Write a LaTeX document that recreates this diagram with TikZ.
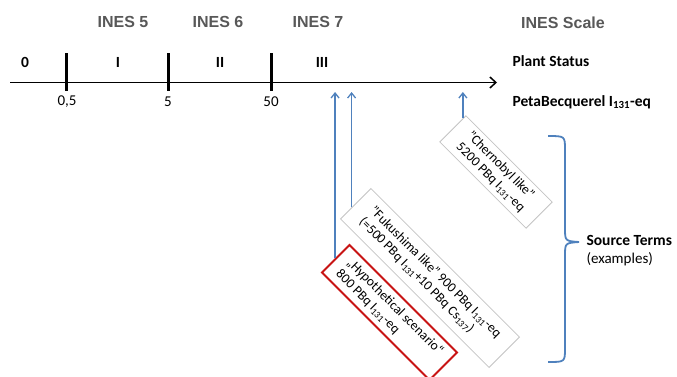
\documentclass[tikz,border=0pt]{standalone}
\usepackage{fontspec}
\setmainfont{Carlito}
\newfontfamily\inesfont{Liberation Sans}
\usetikzlibrary{arrows.meta,calc}
\definecolor{inesgray}{RGB}{88,88,88}
\definecolor{termblue}{RGB}{79,129,189}
\definecolor{hypred}{RGB}{200,20,20}
\definecolor{boxgray}{RGB}{195,195,195}

\tikzset{
    ines/.style={font=\inesfont\bfseries\fontsize{16}{18}\selectfont, text=inesgray},
    level/.style={font=\bfseries\fontsize{15.5}{18}\selectfont},
    value/.style={font=\fontsize{15}{18}\selectfont},
    scaletick/.style={line width=3pt},
    term/.style={draw=boxgray, line width=0.8pt, rotate=-45, align=left,
        font=\fontsize{13.5}{15.5}\selectfont, inner sep=3pt},
    source/.style={-{Straight Barb[length=5pt,width=8pt]}, draw=termblue, line width=1.3pt}
}

\begin{document}
\begin{tikzpicture}[x=1pt, y=-1pt]
    \useasboundingbox (0,0) rectangle (677,376);

    % INES levels
    \node[ines] (ines5) at (123,22) {INES 5};
    \node[ines] (ines6) at (218,22) {INES 6};
    \node[ines] (ines7) at (318,22) {INES 7};
    \node[ines] (inesscale) at (563,23) {INES Scale};

    % scale axis
    \coordinate (axstart) at (10,82.5);
    \coordinate (axend) at (497,82.5);
    \draw[line width=1.5pt, -{Straight Barb[length=6pt,width=11pt]}] (axstart) -- (axend);
    \draw[scaletick] (66,53) -- (66,91);
    \draw[scaletick] (168,53) -- (168,91);
    \draw[scaletick] (271,53) -- (271,91);

    \node[level] (st0) at (25,62) {0};
    \node[level] (st1) at (118,62) {I};
    \node[level] (st2) at (220,62) {II};
    \node[level] (st3) at (322,62) {III};

    \node[value] (pb1) at (67,102) {0,5};
    \node[value] (pb2) at (168,102) {5};
    \node[value] (pb3) at (271,102) {50};

    \node[level, anchor=west] (plant) at (509,61) {Plant Status};
    \node[level, anchor=west] (peta) at (509,102) {PetaBecquerel I\textsubscript{131}-eq};

    % source terms
    \coordinate (pbq) at (0,92);
    \node[term, minimum width=122pt, minimum height=37pt] (cher) at (496,172)
        {"Chernobyl like"\\5200 PBq I\textsubscript{131}-eq};
    \node[term, minimum width=210pt, minimum height=43pt] (fuk) at (430,278)
        {"Fukushima like" 900 PBq I\textsubscript{131}-eq\\(=500 PBq I\textsubscript{131}+10 PBq Cs\textsubscript{137})};
    \node[term, draw=hypred, line width=2pt, minimum width=152pt, minimum height=39pt] (hyp) at (389.5,312.5)
        {„Hypothetical scenario“\\800 PBq I\textsubscript{131}-eq};

    \draw[source] (hyp.west) -- (hyp.west |- pbq);
    \draw[source] ($(fuk.west)!0.25!(fuk.south west)$) coordinate (fukfoot) -- (fukfoot |- pbq);
    \draw[source] ($(cher.west)!0.77!(cher.north west)$) coordinate (cherfoot) -- (cherfoot |- pbq);

    % brace
    \draw[termblue, line width=1.8pt] (548,136) .. controls (565,136) .. (565,150) -- (565,228)
        .. controls (565,241) .. (579,242) .. controls (565,243) .. (565,256) -- (565,348)
        .. controls (565,362) .. (548,362);
    \node[level, anchor=west] (terms) at (583,240) {Source Terms};
    \node[value, anchor=west] (examples) at (583,259) {(examples)};
\end{tikzpicture}
\end{document}
